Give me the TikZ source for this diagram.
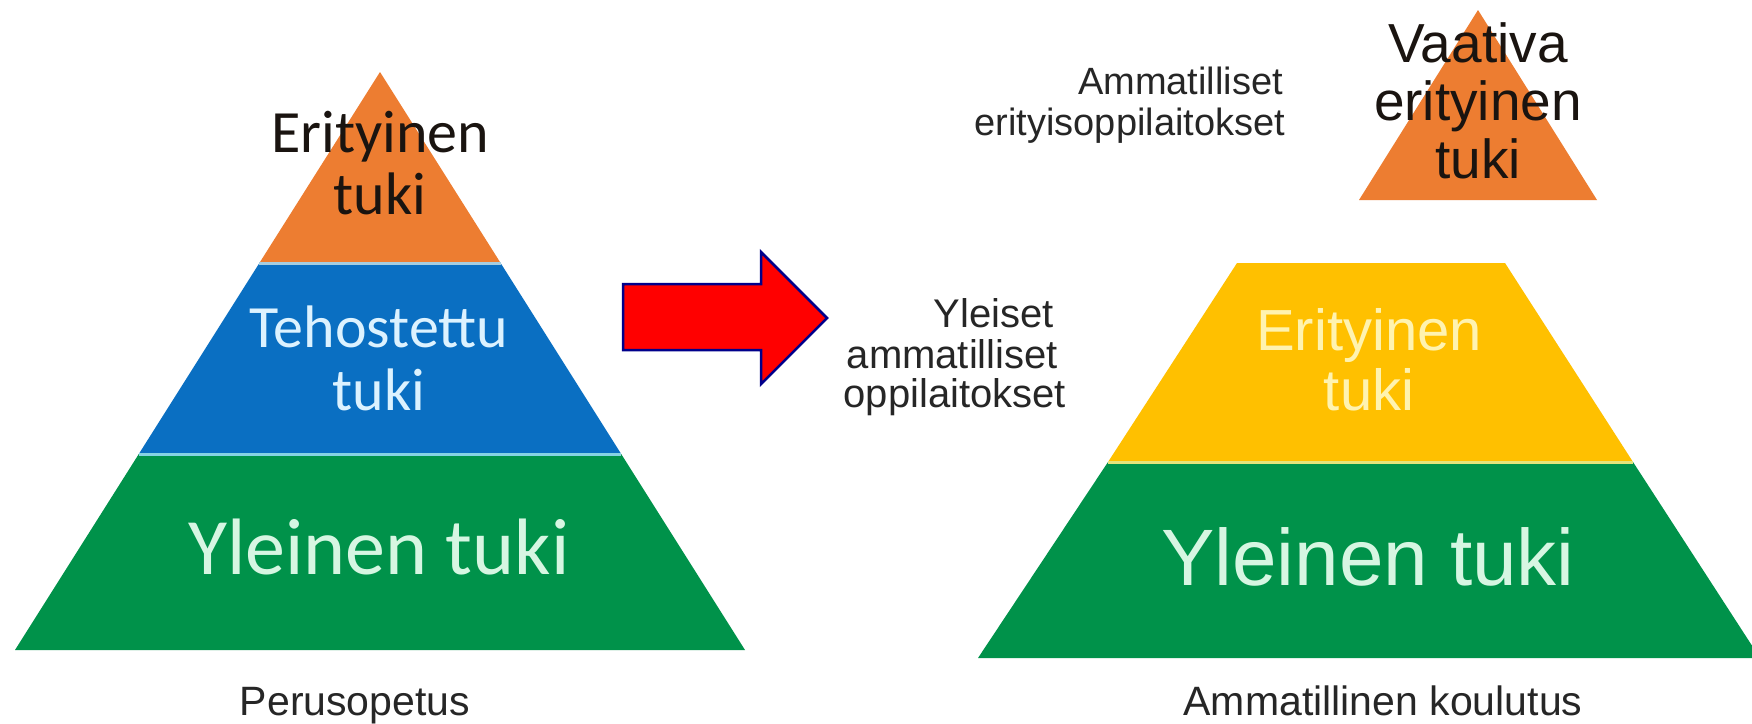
\documentclass[tikz,border=0pt]{standalone}
\usepackage{fontspec}
\setmainfont{Liberation Sans}
\newfontfamily\calfont{Carlito}
\definecolor{orng}{HTML}{ED7D31}
\definecolor{blu}{HTML}{0A6FC2}
\definecolor{grn}{HTML}{00924A}
\definecolor{ylw}{HTML}{FFC000}
\definecolor{lblue}{HTML}{DCF2FF}
\definecolor{lmint}{HTML}{D6F6E2}
\definecolor{lyel}{HTML}{FFF3B0}
\definecolor{sepa}{HTML}{A6CDE0}
\definecolor{sepb}{HTML}{86D3E3}
\definecolor{sepc}{HTML}{E4E47C}
\definecolor{txtgray}{HTML}{262626}
\definecolor{txtdark}{HTML}{1A1410}
\definecolor{navy}{HTML}{00008B}
\begin{document}
\begin{tikzpicture}[x=1pt,y=-1pt,
  lbl/.style={inner sep=0pt, outer sep=0pt},
  calsixty/.style={lbl, font=\calfont\fontsize{60}{62}\selectfont},
  caleighty/.style={lbl, font=\calfont\fontsize{80}{82}\selectfont},
  side/.style={lbl, text=txtgray, font=\fontsize{40}{42}\selectfont},
  sidesmall/.style={lbl, text=txtgray, font=\fontsize{38}{40}\selectfont},
  bottomlbl/.style={lbl, text=txtgray, font=\fontsize{41}{43}\selectfont},
  sep/.style={line width=3pt}
]
\useasboundingbox (0,0) rectangle (1752,723);
\clip (0,0) rectangle (1752,723);
\fill[white] (0,0) rectangle (1752,723);

% ---------- left pyramid ----------
\fill[orng] (380,72) -- (500.6,263) -- (259.4,263) -- cycle;
\fill[blu] (259.4,263) -- (500.6,263) -- (621.2,454) -- (138.8,454) -- cycle;
\fill[grn] (138.8,454) -- (621.2,454) -- (745,650) -- (15,650) -- cycle;
\draw[sep, sepa] (259.4,263) -- (500.6,263);
\draw[sep, sepb] (138.8,454) -- (621.2,454);

\node[calsixty, text=txtdark, anchor=base] (le1) at (380,152) {Erityinen};
\node[calsixty, text=txtdark, anchor=base] (le2) at (380,214) {tuki};
\node[calsixty, text=lblue, anchor=base] (lt1) at (379,347) {Tehostettu};
\node[calsixty, text=lblue, anchor=base] (lt2) at (379,410) {tuki};
\node[caleighty, text=lmint, anchor=base] (ly) at (379,574) {Yleinen tuki};
\node[bottomlbl, anchor=base] (lb) at (355,715) {Perusopetus};

% ---------- arrow ----------
\draw[navy, line width=2.5pt, fill=red, line join=miter]
  (623,284) -- (761,284) -- (761,252) -- (827,318) -- (761,384) -- (761,350) -- (623,350) -- cycle;

% ---------- right pyramid ----------
\fill[orng] (1478,10) -- (1597,200) -- (1359,200) -- cycle;
\fill[ylw] (1237,263) -- (1505,263) -- (1633,462) -- (1108,462) -- cycle;
\fill[grn] (1108,462) -- (1633,462) -- (1760,658) -- (978,658) -- cycle;
\draw[sep, sepc] (1108,462) -- (1633,462);

\node[lbl, text=txtdark, font=\fontsize{55}{57}\selectfont, anchor=base] (rv1) at (1478,62) {Vaativa};
\node[lbl, text=txtdark, font=\fontsize{55}{57}\selectfont, anchor=base] (rv2) at (1478,120) {erityinen};
\node[lbl, text=txtdark, font=\fontsize{55}{57}\selectfont, anchor=base] (rv3) at (1478,178) {tuki};

\node[sidesmall, anchor=base east] (ra1) at (1283,94) {Ammatilliset};
\node[sidesmall, anchor=base east] (ra2) at (1285,135) {erityisoppilaitokset};

\node[side, anchor=base east] (ry1) at (1054,327) {Yleiset};
\node[side, anchor=base east] (ry2) at (1058,368) {ammatilliset};
\node[side, anchor=base east] (ry3) at (1066,407) {oppilaitokset};

\node[lbl, text=lyel, font=\fontsize{58}{60}\selectfont, anchor=base] (re1) at (1369,350) {Erityinen};
\node[lbl, text=lyel, font=\fontsize{58}{60}\selectfont, anchor=base] (re2) at (1369,410) {tuki};
\node[lbl, text=lmint, font=\fontsize{80}{82}\selectfont, anchor=base] (ryl) at (1368,585) {Yleinen tuki};
\node[bottomlbl, anchor=base] (rb) at (1383,715) {Ammatillinen koulutus};
\end{tikzpicture}
\end{document}
